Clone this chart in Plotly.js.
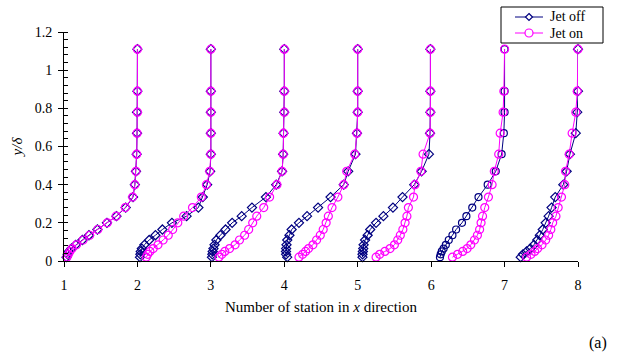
<!DOCTYPE html>
<html>
<head>
<meta charset="utf-8">
<script src="https://cdn.plot.ly/plotly-3.0.1.min.js"></script>
<style>html,body{margin:0;padding:0;background:#fff;}#chart{width:623px;height:355px;}</style>
</head>
<body>
<div id="chart"></div>
<script>
// Station numbers (profile origin on the x axis)
const stations = [1, 2, 3, 4, 5, 6, 7];
// Measurement heights y/delta (shared by all profiles)
const yLevels = [0.02, 0.035, 0.05, 0.065, 0.085, 0.11, 0.135, 0.165, 0.2, 0.235, 0.28, 0.335, 0.40, 0.47, 0.56, 0.67, 0.78, 0.89, 1.11];

// Velocity ratio u/U at each height, jet off
const uOff1 = [0.035, 0.05, 0.066, 0.10, 0.16, 0.25, 0.34, 0.455, 0.585, 0.715, 0.84, 0.94, 0.965, 0.98, 0.99, 0.995, 0.995, 1.0, 1.0];
const uOff2 = [0.035, 0.04, 0.045, 0.06, 0.095, 0.16, 0.245, 0.34, 0.47, 0.67, 0.83, 0.89, 0.95, 0.99, 1.0, 1.0, 1.0, 1.0, 1.0];
const uOff3 = [0.015, 0.02, 0.025, 0.035, 0.05, 0.075, 0.13, 0.2, 0.29, 0.42, 0.56, 0.75, 0.89, 0.97, 0.985, 0.99, 1.0, 1.0, 1.0];
const uOff4 = [0.04, 0.025, 0.023, 0.025, 0.03, 0.04, 0.07, 0.1, 0.2, 0.31, 0.46, 0.63, 0.81, 0.87, 0.97, 0.99, 1.0, 1.0, 1.0];
const uOff5 = [0.065, 0.065, 0.07, 0.075, 0.08, 0.1, 0.135, 0.17, 0.25, 0.35, 0.48, 0.61, 0.77, 0.87, 0.97, 0.985, 0.99, 0.99, 0.99];
const uOff6 = [0.12, 0.13, 0.145, 0.17, 0.2, 0.24, 0.29, 0.34, 0.42, 0.48, 0.56, 0.645, 0.77, 0.88, 0.96, 0.99, 1.0, 1.0, 1.0];
const uOff7 = [0.22, 0.25, 0.3, 0.35, 0.4, 0.445, 0.48, 0.52, 0.56, 0.6, 0.64, 0.69, 0.8, 0.845, 0.89, 0.97, 0.99, 1.0, 1.0];

// Velocity ratio u/U at each height, jet on
const uOn1 = [0.04, 0.06, 0.08, 0.11, 0.17, 0.26, 0.35, 0.46, 0.59, 0.71, 0.835, 0.935, 0.965, 0.98, 0.99, 0.995, 1.0, 1.0, 1.0];
const uOn2 = [0.12, 0.14, 0.17, 0.215, 0.28, 0.35, 0.42, 0.48, 0.55, 0.63, 0.75, 0.87, 0.94, 0.985, 1.0, 1.0, 1.0, 1.0, 1.0];
const uOn3 = [0.11, 0.15, 0.19, 0.255, 0.33, 0.39, 0.46, 0.515, 0.57, 0.625, 0.72, 0.80, 0.90, 0.97, 0.985, 0.99, 1.0, 1.0, 1.0];
const uOn4 = [0.2, 0.25, 0.29, 0.33, 0.39, 0.44, 0.49, 0.53, 0.57, 0.6, 0.65, 0.73, 0.81, 0.85, 0.96, 0.99, 1.0, 1.0, 1.0];
const uOn5 = [0.25, 0.3, 0.37, 0.44, 0.5, 0.545, 0.58, 0.615, 0.645, 0.67, 0.69, 0.76, 0.78, 0.86, 0.89, 0.985, 0.99, 0.99, 0.99];
const uOn6 = [0.29, 0.36, 0.43, 0.49, 0.54, 0.59, 0.63, 0.66, 0.68, 0.70, 0.73, 0.78, 0.83, 0.86, 0.92, 0.94, 0.98, 0.99, 1.0];
const uOn7 = [0.3, 0.36, 0.41, 0.45, 0.51, 0.56, 0.6, 0.63, 0.655, 0.7, 0.73, 0.775, 0.82, 0.83, 0.88, 0.92, 0.97, 0.99, 1.0];

const offSeries = [uOff1, uOff2, uOff3, uOff4, uOff5, uOff6, uOff7];
const onSeries = [uOn1, uOn2, uOn3, uOn4, uOn5, uOn6, uOn7];
const offSymbols = ['diamond-open', 'diamond-open', 'diamond-open', 'diamond-open', 'diamond-open', 'circle-open', 'diamond-open'];
const seriesNames = ['Jet off', 'Jet on'];

const xTicks = [1, 2, 3, 4, 5, 6, 7, 8];
const yTicks = [0, 0.2, 0.4, 0.6, 0.8, 1, 1.2];

const NAVY = '#000080', MAG = '#FF00FF';
const FONT = 'Liberation Serif';
const traces = [];
stations.forEach((s, i) => {
  traces.push({
    x: offSeries[i].map(u => s + u), y: yLevels, type: 'scatter', mode: 'lines+markers',
    name: seriesNames[0], showlegend: false, cliponaxis: false,
    line: {color: NAVY, width: 1},
    marker: {symbol: offSymbols[i], size: 7, color: NAVY, line: {color: NAVY, width: 1.2}}
  });
});
stations.forEach((s, i) => {
  traces.push({
    x: onSeries[i].map(u => s + u), y: yLevels, type: 'scatter', mode: 'lines+markers',
    name: seriesNames[1], showlegend: false, cliponaxis: false,
    line: {color: MAG, width: 1},
    marker: {symbol: 'circle-open', size: 8, color: MAG, line: {color: MAG, width: 1.2}}
  });
});

// Legend drawn in paper space (pixel -> paper helpers; plot area is 514 x 229 px)
const W = 514, H = 229, L = 64, B = 261;
const px = X => (X - L) / W;
const py = Y => (B - Y) / H;
const shapes = [
  {type: 'rect', xref: 'paper', yref: 'paper', x0: px(501), x1: px(603), y0: py(43), y1: py(7),
   fillcolor: '#fff', line: {color: '#000', width: 1}, layer: 'above'},
  {type: 'line', xref: 'paper', yref: 'paper', x0: px(515), x1: px(543), y0: py(17), y1: py(17),
   line: {color: NAVY, width: 1}, layer: 'above'},
  {type: 'path', xref: 'paper', yref: 'paper', layer: 'above',
   path: `M${px(529)},${py(13.5)} L${px(532.5)},${py(17)} L${px(529)},${py(20.5)} L${px(525.5)},${py(17)} Z`,
   fillcolor: '#fff', line: {color: NAVY, width: 1.2}},
  {type: 'line', xref: 'paper', yref: 'paper', x0: px(515), x1: px(543), y0: py(33), y1: py(33),
   line: {color: MAG, width: 1}, layer: 'above'},
  {type: 'circle', xref: 'paper', yref: 'paper', x0: px(525), x1: px(533), y0: py(37), y1: py(29),
   fillcolor: '#fff', line: {color: MAG, width: 1.2}, layer: 'above'}
];

const layout = {
  width: 623, height: 355,
  margin: {l: 64, r: 45, t: 32, b: 94},
  paper_bgcolor: '#fff', plot_bgcolor: '#fff',
  font: {family: FONT, size: 14, color: '#000'},
  showlegend: false,
  xaxis: {
    range: [1, 8], tickvals: xTicks, ticktext: xTicks.map(String),
    showgrid: false, zeroline: false, showline: true, linecolor: '#000', linewidth: 1,
    ticks: 'outside', ticklen: 5, tickcolor: '#000', ticklabelstandoff: 6,
    tickfont: {family: FONT, size: 14},
    title: {text: 'Number of station in <i>x</i> direction', font: {family: FONT, size: 15}, standoff: 9}
  },
  yaxis: {
    range: [0, 1.2], tickvals: yTicks, ticktext: yTicks.map(String),
    showgrid: false, zeroline: false, showline: true, linecolor: '#000', linewidth: 1,
    ticks: 'outside', ticklen: 5, tickcolor: '#000', ticklabelstandoff: 3,
    tickfont: {family: FONT, size: 14},
    minor: {dtick: 0.04, ticks: 'inside', ticklen: 4, tickcolor: '#000'},
    title: {text: '<i>y/δ</i>', font: {family: FONT, size: 15}, standoff: 8}
  },
  shapes: shapes,
  annotations: [
    {text: seriesNames[0], xref: 'paper', yref: 'paper', x: px(548), y: py(17), xanchor: 'left', yanchor: 'middle',
     showarrow: false, font: {family: FONT, size: 14, color: '#000'}},
    {text: seriesNames[1], xref: 'paper', yref: 'paper', x: px(548), y: py(33), xanchor: 'left', yanchor: 'middle',
     showarrow: false, font: {family: FONT, size: 14, color: '#000'}},
    {text: '(a)', xref: 'paper', yref: 'paper', x: px(598), y: py(343),
     xanchor: 'center', yanchor: 'middle', showarrow: false,
     font: {family: FONT, size: 16, color: '#000'}}
  ]
};

Plotly.newPlot('chart', traces, layout, {displayModeBar: false, staticPlot: true});
</script>
</body>
</html>
